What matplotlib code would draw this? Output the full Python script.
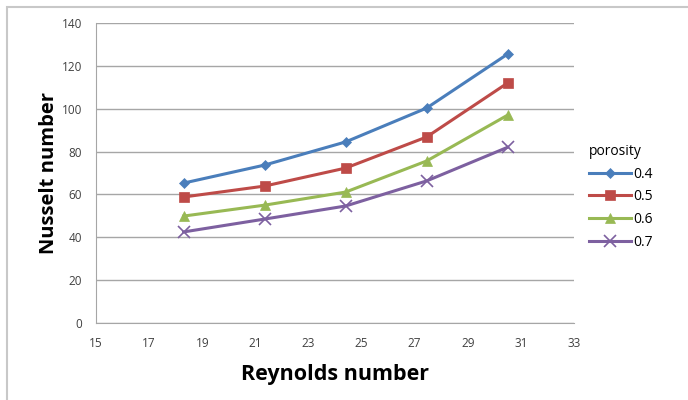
import matplotlib
matplotlib.use('Agg')
import matplotlib.pyplot as plt
from matplotlib.patches import Rectangle

# Nusselt number vs Reynolds number for several porosities
reynolds = [18.3, 21.35, 24.4, 27.45, 30.5]
porosities = ['0.4', '0.5', '0.6', '0.7']
nu_04 = [65.3, 73.7, 84.5, 100.3, 125.5]
nu_05 = [58.8, 63.9, 72.3, 86.8, 112.0]
nu_06 = [49.9, 55.0, 61.1, 75.6, 97.0]
nu_07 = [42.5, 48.5, 54.6, 66.3, 82.0]

series = [nu_04, nu_05, nu_06, nu_07]
colors = ['#4a7ebb', '#be4b48', '#98b954', '#7d60a0']
markers = ['D', 's', '^', 'x']
msizes = [5, 7, 7, 8]

plt.rcParams['font.family'] = ['Open Sans', 'DejaVu Sans']

fig = plt.figure(figsize=(6.88, 4.0), dpi=100)
fig.patches.append(Rectangle((7 / 688, -0.1), 1.2, (400 - 7) / 400 + 0.1,
                             transform=fig.transFigure, fill=False,
                             edgecolor='#c8c8c8', linewidth=1.5))

ax = fig.add_axes([96 / 688, 77 / 400, 478 / 688, 300 / 400])

for vals, name, c, m, ms in zip(series, porosities, colors, markers, msizes):
    ax.plot(reynolds, vals, color=c, linewidth=2.2, marker=m, markersize=ms,
            markeredgewidth=1.2 if m == 'x' else 0.5, label=name)

ax.set_xlim(15, 33)
ax.set_ylim(0, 140)
ax.set_xticks(range(15, 34, 2))
ax.set_yticks(range(0, 141, 20))
ax.grid(axis='y', color='#a6a6a6', linewidth=1)
ax.set_axisbelow(True)
for side in ['top', 'right']:
    ax.spines[side].set_visible(False)
for side in ['left', 'bottom']:
    ax.spines[side].set_color('#a6a6a6')
ax.tick_params(length=0, labelsize=8.5, labelcolor='#404040', pad=10)

ax.set_xlabel('Reynolds number', fontsize=15.5, fontweight='bold', labelpad=10)
ax.set_ylabel('Nusselt number', fontsize=14.5, fontweight='bold', labelpad=2)

leg = ax.legend(title='porosity', loc='upper left', bbox_to_anchor=(1.02, 0.615),
                frameon=False, fontsize=10, title_fontsize=10,
                handlelength=3.0, handletextpad=0.2, labelspacing=0.55,
                borderaxespad=0)
leg._legend_box.align = 'left'

fig.savefig('out.png', dpi=100, facecolor='white')
